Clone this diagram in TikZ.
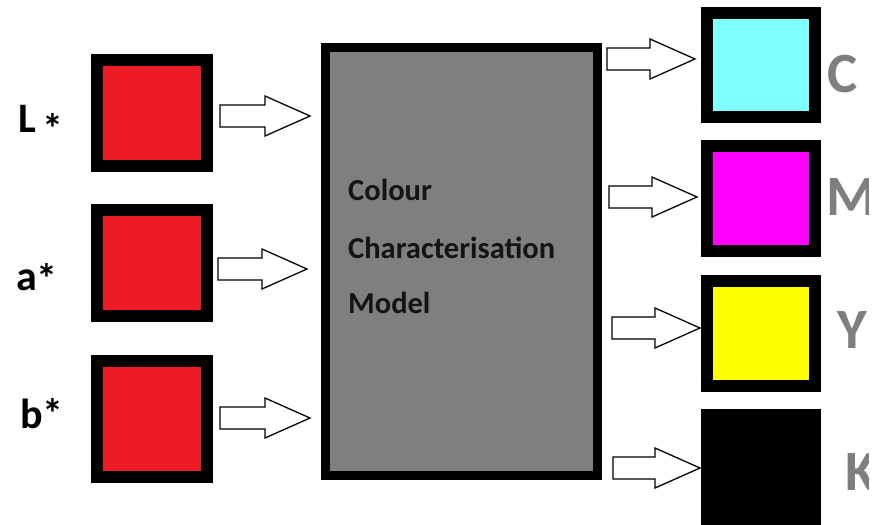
\documentclass[tikz,border=0pt]{standalone}
\usepackage{fontspec}
\setmainfont{Carlito}
\usetikzlibrary{calc}
\definecolor{boxred}{HTML}{ED1C24}
\definecolor{boxcyan}{HTML}{80FFFF}
\definecolor{boxmag}{HTML}{FF00FF}
\definecolor{boxyel}{HTML}{FFFF00}
\definecolor{modelgray}{HTML}{7F7F7F}
\definecolor{labgray}{HTML}{7F7F7F}
\newcommand{\blockarr}[2]{%
  \draw[blockarrow] let \p1=(#1), \p2=(#2) in
    (\x1,\y1+11pt) -- (\x2-45pt,\y1+11pt) -- (\x2-45pt,\y1+20pt) -- (\x2,\y1)
    -- (\x2-45pt,\y1-20pt) -- (\x2-45pt,\y1-11pt) -- (\x1,\y1-11pt) -- cycle;}
\begin{document}
\begin{tikzpicture}[x=1pt,y=-1pt,
  swatch/.style={draw=black, line width=12pt, inner sep=0pt, minimum width=110pt},
  outswatch/.style={draw=black, line width=12pt, inner sep=0pt, minimum width=108pt},
  modelbox/.style={draw=black, line width=9pt, fill=modelgray, inner sep=0pt,
    minimum width=272pt, minimum height=428pt},
  inlabel/.style={anchor=base west, inner sep=0pt, font=\bfseries\fontsize{42}{42}\selectfont, text=black},
  outlabel/.style={anchor=base west, inner sep=0pt, font=\bfseries\fontsize{57}{57}\selectfont, text=labgray},
  modeltext/.style={anchor=base west, inner sep=0pt, font=\bfseries\fontsize{30.5}{30.5}\selectfont, text=black!92},
  blockarrow/.style={draw=black, line width=1.3pt, fill=white, line join=miter}]
\useasboundingbox (0,0) rectangle (874,524);
\fill[white] (0,0) rectangle (874,524);

% input swatches
\node[swatch, fill=boxred, minimum height=106pt] (Lbox) at (152,113) {};
\node[swatch, fill=boxred, minimum height=106pt] (abox) at (152,263) {};
\node[swatch, fill=boxred, minimum height=116pt] (bbox) at (152,419) {};

% input labels
\node[inlabel] (Llab) at (18,132) {L\hspace{7pt}\raisebox{-11pt}{*}};
\node[inlabel] (alab) at (16,290) {a\raisebox{-3pt}{*}};
\node[inlabel] (blab) at (20,428) {b*};

% model
\node[modelbox] (model) at (461.5,261.5) {};
\node[modeltext] (t1) at (348,200) {Colour};
\node[modeltext] (t2) at (348,258) {Characterisation};
\node[modeltext] (t3) at (348,313) {Model};

% output swatches
\node[outswatch, fill=boxcyan, minimum height=104pt] (Cbox) at (761,65) {};
\node[outswatch, fill=boxmag, minimum height=105pt] (Mbox) at (761,198.5) {};
\node[outswatch, fill=boxyel, minimum height=105pt] (Ybox) at (761,333.5) {};
\node[outswatch, fill=black, minimum height=105pt] (Kbox) at (761,467.5) {};

% output labels (cut at the right edge as in the original)
\begin{scope}
\clip (0,0) rectangle (868,524);
\node[outlabel] (Clab) at (827,93) {C};
\node[outlabel] (Mlab) at (826,215) {M};
\node[outlabel] (Ylab) at (837,348) {Y};
\node[outlabel] (Klab) at (845,490) {K};
\end{scope}

% arrow end points
\coordinate (a1s) at (220,116); \coordinate (a1e) at (310,116);
\coordinate (a2s) at (218,269); \coordinate (a2e) at (307,269);
\coordinate (a3s) at (220,418); \coordinate (a3e) at (310,418);
\coordinate (c1s) at (607,59);  \coordinate (c1e) at (695,59);
\coordinate (c2s) at (609,197); \coordinate (c2e) at (697,197);
\coordinate (c3s) at (612,328); \coordinate (c3e) at (700,328);
\coordinate (c4s) at (613,468); \coordinate (c4e) at (700,468);

\blockarr{a1s}{a1e}
\blockarr{a2s}{a2e}
\blockarr{a3s}{a3e}
\blockarr{c1s}{c1e}
\blockarr{c2s}{c2e}
\blockarr{c3s}{c3e}
\blockarr{c4s}{c4e}
\end{tikzpicture}
\end{document}
